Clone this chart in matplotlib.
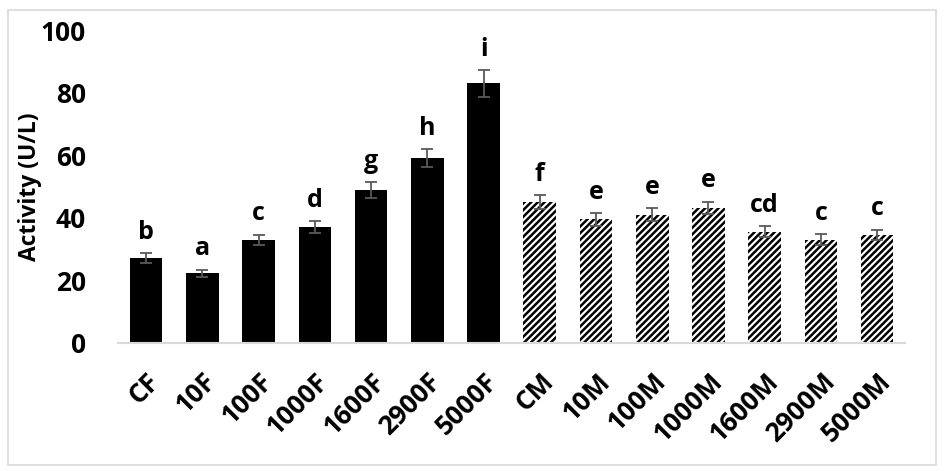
import matplotlib
matplotlib.use("Agg")
import matplotlib.pyplot as plt
from matplotlib.patches import Rectangle

categories = ["CF", "10F", "100F", "1000F", "1600F", "2900F", "5000F",
              "CM", "10M", "100M", "1000M", "1600M", "2900M", "5000M"]
values = [27.2, 22.2, 33.0, 37.0, 48.9, 59.0, 83.0,
          45.0, 39.5, 41.0, 43.2, 35.5, 33.0, 34.5]
errors = [1.5, 1.2, 1.6, 1.9, 2.5, 2.9, 4.3,
          2.3, 2.0, 2.0, 2.0, 1.8, 1.7, 1.7]
letters = ["b", "a", "c", "d", "g", "h", "i",
           "f", "e", "e", "e", "cd", "c", "c"]
yticks = [0, 20, 40, 60, 80, 100]

plt.rcParams['font.family'] = ['Open Sans', 'DejaVu Sans']
plt.rcParams['hatch.linewidth'] = 1.8

fig = plt.figure(figsize=(9.44, 4.71), dpi=100)
ax = fig.add_axes([0.125, 0.272, 0.834, 0.664])

x = list(range(len(categories)))
for i, (v, e) in enumerate(zip(values, errors)):
    if categories[i].endswith("F"):
        ax.bar(i, v, width=0.58, color="black", edgecolor="black", linewidth=0)
    else:
        ax.bar(i, v, width=0.58, color="white", edgecolor="black", linewidth=0,
               hatch="/////")
ax.errorbar(x, values, yerr=errors, fmt="none", ecolor="#595959",
            elinewidth=1.3, capsize=4.5, capthick=1.3)
for i, (v, e, l) in enumerate(zip(values, errors, letters)):
    ax.annotate(l, (i, v + e), xytext=(0, 6), textcoords="offset points",
                ha="center", va="bottom", fontsize=18, fontweight="bold")

ax.set_xlim(-0.5, len(categories) - 0.5)
ax.set_ylim(0, 100)
ax.set_yticks(yticks)
ax.set_yticklabels([str(t) for t in yticks], fontsize=19, fontweight="bold")
ax.set_xticks(x)
ax.set_xticklabels(categories, rotation=45, ha="right", rotation_mode="anchor",
                   fontsize=19, fontweight="bold")
ax.tick_params(axis="both", length=0)
ax.tick_params(axis="y", pad=23)
ax.tick_params(axis="x", pad=18)
for s in ["top", "right", "left"]:
    ax.spines[s].set_visible(False)
ax.spines["bottom"].set_color("#d9d9d9")
ax.spines["bottom"].set_linewidth(1.5)
ax.set_ylabel("Activity (U/L)", fontsize=16.5, fontweight="bold")
ax.yaxis.set_label_coords(-0.097, 0.5)

fig.patches.append(Rectangle((0.008, 0.013), 0.984, 0.966, transform=fig.transFigure,
                             fill=False, edgecolor="#d9d9d9", linewidth=1.2))

fig.savefig("out.png", dpi=100)
